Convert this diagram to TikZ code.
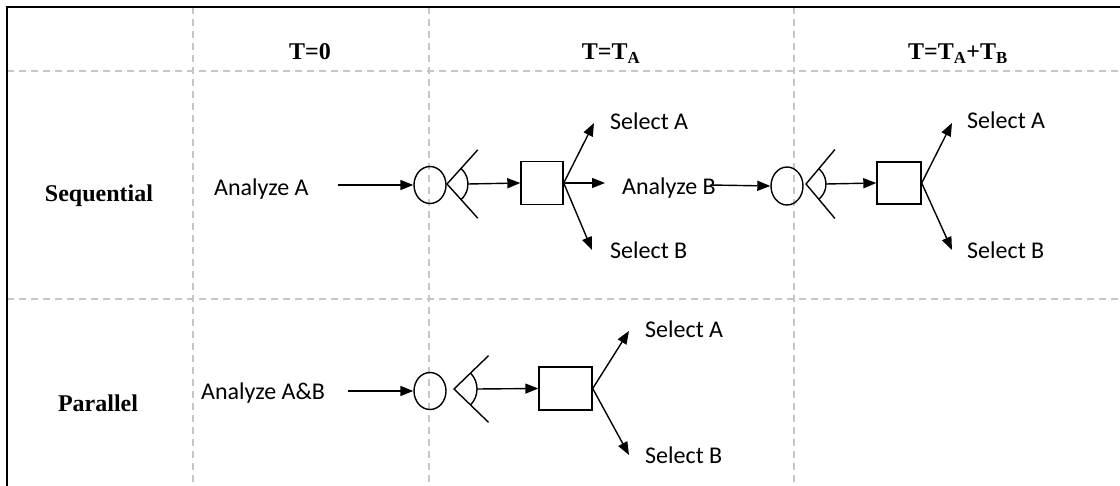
\documentclass[tikz,border=0pt]{standalone}
\usepackage{fontspec}
\setmainfont{Liberation Serif}
\newfontfamily\labelfont{Carlito}
\usetikzlibrary{arrows.meta,shapes.geometric,calc}
\begin{document}
\begin{tikzpicture}[x=1pt,y=-1pt,
  gridline/.style={draw=gray!45, dash pattern=on 7pt off 5pt, line width=1.2pt},
  frame/.style={line width=2.5pt},
  hdr/.style={font=\fontsize{24}{28}\selectfont\bfseries, inner sep=0pt, text depth=0pt},
  lbl/.style={font=\labelfont\fontsize{24}{28}\selectfont, inner sep=0pt, text depth=0pt, anchor=west},
  conn/.style={line width=1.4pt, -{Triangle[length=13pt,width=10pt]}},
  plain/.style={line width=1.4pt},
  circ/.style={draw, ellipse, line width=1.4pt, minimum width=32pt, minimum height=37pt, inner sep=0pt},
  sq/.style={draw, rectangle, line width=1.4pt, inner sep=0pt}]
\useasboundingbox (0,0) rectangle (1120,486);

% grid
\foreach \gx in {193,429,794} \draw[gridline] (\gx,7) -- (\gx,486);
\foreach \gy in {71,299} \draw[gridline] (7,\gy) -- (1120,\gy);
\draw[frame] (7,486) -- (7,7) -- (1120,7);

% headers
\node[hdr] (h0) at (310,52) {T=0};
\node[hdr] (h1) at (611,52) {T=T\textsubscript{A}};
\node[hdr] (h2) at (958,52) {T=T\textsubscript{A}+T\textsubscript{B}};
\node[hdr] (rs) at (99,193) {Sequential};
\node[hdr] (rp) at (98,403) {Parallel};

% ---------- Sequential row ----------
\node[lbl] (aA) at (214,187) {Analyze A};
\coordinate (s1) at (338,185);
\node[circ] (c1) at (430,185) {};
\draw[conn] (s1) -- (c1.west);
\coordinate (v1) at (447,184);
\draw[plain] ($(v1)+(-48:46)$) -- (v1) -- ($(v1)+(48:46)$);
\draw[plain] ($(v1)+(-48:21)$) arc[start angle=-48, end angle=48, radius=21];
\node[sq, minimum width=42pt, minimum height=43pt] (b1) at (542,183) {};
\draw[conn] ($(v1)+(21,0)$) -- (b1.west);
\coordinate (tA1) at (594,123);
\coordinate (tM1) at (605,183);
\coordinate (tB1) at (592,250);
\draw[conn] (b1.east) -- (tA1);
\draw[conn] (b1.east) -- (tM1);
\draw[conn] (b1.east) -- (tB1);
\node[lbl] (sA1) at (610,121) {Select A};
\node[lbl] (sB1) at (610,250) {Select B};
\node[lbl] (aB) at (622,186) {Analyze B};

\coordinate (s2) at (710,185);
\node[circ, minimum height=38pt] (c2) at (787,186) {};
\draw[conn] (s2) -- (c2.west);
\coordinate (v2) at (806,184);
\draw[plain] ($(v2)+(-50:45)$) -- (v2) -- ($(v2)+(50:45)$);
\draw[plain] ($(v2)+(-50:20)$) arc[start angle=-50, end angle=50, radius=20];
\node[sq, minimum width=44pt, minimum height=42pt] (b2) at (899,183) {};
\draw[conn] ($(v2)+(20,0)$) -- (b2.west);
\coordinate (tA2) at (952,123);
\coordinate (tB2) at (952,250);
\draw[conn] (b2.east) -- (tA2);
\draw[conn] (b2.east) -- (tB2);
\node[lbl] (sA2) at (967,120) {Select A};
\node[lbl] (sB2) at (967,250) {Select B};

% ---------- Parallel row ----------
\node[lbl] (aAB) at (201,391) {Analyze A\&B};
\coordinate (s3) at (348,391);
\node[circ] (c3) at (430,391) {};
\draw[conn] (s3) -- (c3.west);
\coordinate (v3) at (454,389);
\draw[plain] ($(v3)+(-44:48)$) -- (v3) -- ($(v3)+(44:48)$);
\draw[plain] ($(v3)+(-44:23)$) arc[start angle=-44, end angle=44, radius=23];
\node[sq, minimum width=53pt, minimum height=43pt] (b3) at (565.5,388.5) {};
\draw[conn] ($(v3)+(23,0)$) -- (b3.west);
\coordinate (tA3) at (629,331);
\coordinate (tB3) at (629,455);
\draw[conn] (b3.east) -- (tA3);
\draw[conn] (b3.east) -- (tB3);
\node[lbl] (sA3) at (645,329) {Select A};
\node[lbl] (sB3) at (645,455) {Select B};
\end{tikzpicture}
\end{document}
